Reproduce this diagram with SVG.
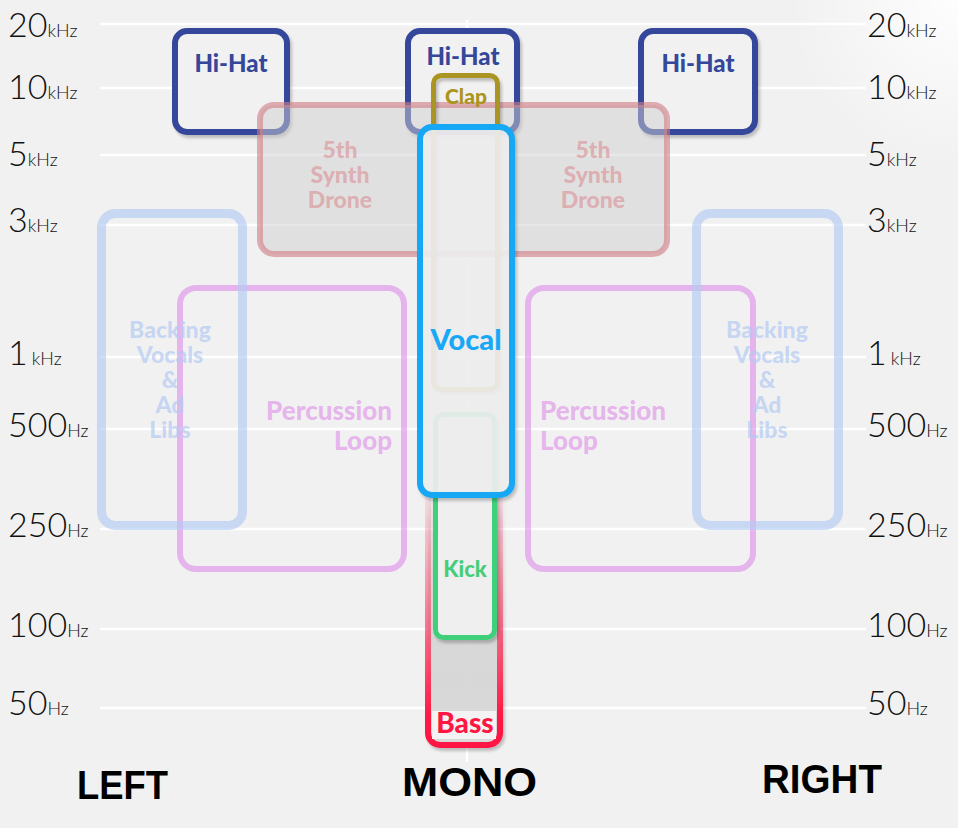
<svg xmlns="http://www.w3.org/2000/svg" width="958" height="828" viewBox="0 0 958 828">
<style>
.ax{font-family:Lato,"Liberation Sans",sans-serif;font-weight:300;font-size:34px;fill:#111}
.ax tspan{font-size:18px}
.lbl{font-family:Lato,"Noto Sans","Liberation Sans",sans-serif;font-weight:900;text-anchor:middle}
.bot{font-family:"Liberation Sans",Arial,sans-serif;font-weight:700;font-size:40px;fill:#000}
.grid line{stroke:#fff;stroke-width:2.5}
.box{filter:url(#sh)}
</style>
<defs>
<filter id="sh" x="-10%" y="-10%" width="120%" height="120%">
<feDropShadow dx="2" dy="3" stdDeviation="1.6" flood-color="#000" flood-opacity="0.22"/>
</filter>
<radialGradient id="glare" cx="958" cy="0" r="170" gradientUnits="userSpaceOnUse">
<stop offset="0" stop-color="#fff" stop-opacity="0.9"/>
<stop offset="1" stop-color="#fff" stop-opacity="0"/>
</radialGradient>
<linearGradient id="bassStroke" x1="0" y1="0" x2="0" y2="1">
<stop offset="0" stop-color="#ff1744" stop-opacity="0"/>
<stop offset="0.55" stop-color="#ff1744" stop-opacity="0.55"/>
<stop offset="0.9" stop-color="#ff1744" stop-opacity="1"/>
</linearGradient>
<linearGradient id="bassFill" x1="0" y1="0" x2="0" y2="1">
<stop offset="0" stop-color="#d6d6d6" stop-opacity="0"/>
<stop offset="0.4" stop-color="#d6d6d6" stop-opacity="0.9"/>
<stop offset="1" stop-color="#d9d9d9" stop-opacity="1"/>
</linearGradient>
</defs>
<rect width="958" height="828" fill="#f1f1f1"/>
<rect width="958" height="828" fill="url(#glare)"/>

<g id="grid" class="grid">
<line x1="100" y1="24" x2="866" y2="24"/>
<line x1="100" y1="88" x2="866" y2="88"/>
<line x1="100" y1="155" x2="866" y2="155"/>
<line x1="100" y1="225" x2="866" y2="225"/>
<line x1="100" y1="357" x2="866" y2="357"/>
<line x1="100" y1="429" x2="866" y2="429"/>
<line x1="100" y1="529" x2="866" y2="529"/>
<line x1="100" y1="629" x2="866" y2="629"/>
<line x1="100" y1="708" x2="866" y2="708"/>
<line x1="467" y1="20" x2="467" y2="762" stroke-width="2"/>
</g>

<g id="axis-left">
<text class="ax" x="8" y="37">20<tspan>kHz</tspan></text>
<text class="ax" x="8" y="99">10<tspan>kHz</tspan></text>
<text class="ax" x="8" y="166">5<tspan>kHz</tspan></text>
<text class="ax" x="8" y="232">3<tspan>kHz</tspan></text>
<text class="ax" x="8" y="365">1<tspan dx="4">kHz</tspan></text>
<text class="ax" x="8" y="437">500<tspan>Hz</tspan></text>
<text class="ax" x="8" y="537">250<tspan>Hz</tspan></text>
<text class="ax" x="8" y="637">100<tspan>Hz</tspan></text>
<text class="ax" x="8" y="715">50<tspan>Hz</tspan></text>
</g>
<g id="axis-right">
<text class="ax" x="867" y="37">20<tspan>kHz</tspan></text>
<text class="ax" x="867" y="99">10<tspan>kHz</tspan></text>
<text class="ax" x="867" y="166">5<tspan>kHz</tspan></text>
<text class="ax" x="867" y="232">3<tspan>kHz</tspan></text>
<text class="ax" x="867" y="365">1<tspan dx="4">kHz</tspan></text>
<text class="ax" x="867" y="437">500<tspan>Hz</tspan></text>
<text class="ax" x="867" y="537">250<tspan>Hz</tspan></text>
<text class="ax" x="867" y="637">100<tspan>Hz</tspan></text>
<text class="ax" x="867" y="715">50<tspan>Hz</tspan></text>
</g>

<g id="hihat-left">
<rect class="box" x="175" y="31" width="112" height="101" rx="12" fill="#f1f1f1" stroke="#34479a" stroke-width="6"/>
<text class="lbl" x="231" y="72" font-size="24" fill="#34479a">Hi-Hat</text>
</g>
<g id="hihat-mono">
<rect class="box" x="408" y="31" width="109" height="101" rx="12" fill="#f1f1f1" stroke="#34479a" stroke-width="6"/>
<text class="lbl" x="463" y="65" font-size="24" fill="#34479a">Hi-Hat</text>
</g>
<g id="hihat-right">
<rect class="box" x="641" y="31" width="114" height="101" rx="12" fill="#f1f1f1" stroke="#34479a" stroke-width="6"/>
<text class="lbl" x="698" y="72" font-size="24" fill="#34479a">Hi-Hat</text>
</g>

<g id="synth-drone">
<rect x="260" y="105" width="407" height="149" rx="14" fill="#cfcfcf" fill-opacity="0.5" stroke="#cf7c84" stroke-opacity="0.6" stroke-width="6"/>
<g class="lbl" font-size="23" fill="#d9848d" fill-opacity="0.55">
<text x="340" y="158">5th</text><text x="340" y="183">Synth</text><text x="340" y="208">Drone</text>
<text x="593" y="158">5th</text><text x="593" y="183">Synth</text><text x="593" y="208">Drone</text>
</g>
</g>

<g id="percussion-left">
<rect x="180" y="288" width="224" height="281" rx="16" fill="none" stroke="#dd8ce9" stroke-opacity="0.6" stroke-width="6"/>
<g font-family="Lato,'Noto Sans','Liberation Sans',sans-serif" font-weight="900" font-size="26" fill="#dd8ce9" fill-opacity="0.6" text-anchor="end">
<text x="392" y="420">Percussion</text><text x="392" y="450">Loop</text>
</g>
</g>
<g id="percussion-right">
<rect x="528" y="288" width="225" height="281" rx="16" fill="none" stroke="#dd8ce9" stroke-opacity="0.6" stroke-width="6"/>
<g font-family="Lato,'Noto Sans','Liberation Sans',sans-serif" font-weight="900" font-size="26" fill="#dd8ce9" fill-opacity="0.6">
<text x="540" y="420">Percussion</text><text x="540" y="450">Loop</text>
</g>
</g>

<g id="backing-left">
<rect x="101.5" y="213.5" width="141" height="312" rx="14" fill="none" stroke="#b3cbf3" stroke-opacity="0.65" stroke-width="9"/>
<g class="lbl" font-size="23" fill="#b3cbf3" fill-opacity="0.7">
<text x="170" y="338">Backing</text><text x="170" y="363">Vocals</text><text x="170" y="388">&amp;</text><text x="170" y="413">Ad</text><text x="170" y="438">Libs</text>
</g>
</g>
<g id="backing-right">
<rect x="696.5" y="213.5" width="142" height="312" rx="14" fill="none" stroke="#b3cbf3" stroke-opacity="0.65" stroke-width="9"/>
<g class="lbl" font-size="23" fill="#b3cbf3" fill-opacity="0.7">
<text x="767" y="338">Backing</text><text x="767" y="363">Vocals</text><text x="767" y="388">&amp;</text><text x="767" y="413">Ad</text><text x="767" y="438">Libs</text>
</g>
</g>

<g id="bass">
<rect class="box" x="428" y="480" width="72" height="265" rx="12" fill="url(#bassFill)" stroke="url(#bassStroke)" stroke-width="6"/>
<rect x="432" y="711" width="64" height="28" fill="#f3f3f3"/>
<text class="lbl" x="465" y="733" font-size="28" fill="#ff1744">Bass</text>
</g>

<g id="kick">
<rect class="box" x="435.5" y="414.5" width="59" height="223" rx="8" fill="#efefef" stroke="#3fcf7a" stroke-width="5"/>
<text class="lbl" x="465" y="577" font-size="22" fill="#45cd7a">Kick</text>
</g>

<g id="clap">
<rect class="box" x="433.5" y="75.5" width="64" height="314" rx="8" fill="none" stroke="#ab9520" stroke-width="5"/>
<text class="lbl" x="466" y="104" font-size="21" fill="#ab9520">Clap</text>
</g>

<g id="vocal">
<rect class="box" x="420" y="127" width="92" height="368" rx="12" fill="#efefef" fill-opacity="0.9" stroke="#18a8f5" stroke-width="6"/>
<text class="lbl" x="466" y="350" font-size="29" fill="#18a8f5">Vocal</text>
</g>

<g id="pan-labels">
<text class="bot" x="77" y="799" textLength="91" lengthAdjust="spacingAndGlyphs">LEFT</text>
<text class="bot" x="402" y="796" textLength="135" lengthAdjust="spacingAndGlyphs">MONO</text>
<text class="bot" x="762" y="793" textLength="120" lengthAdjust="spacingAndGlyphs">RIGHT</text>
</g>
</svg>
